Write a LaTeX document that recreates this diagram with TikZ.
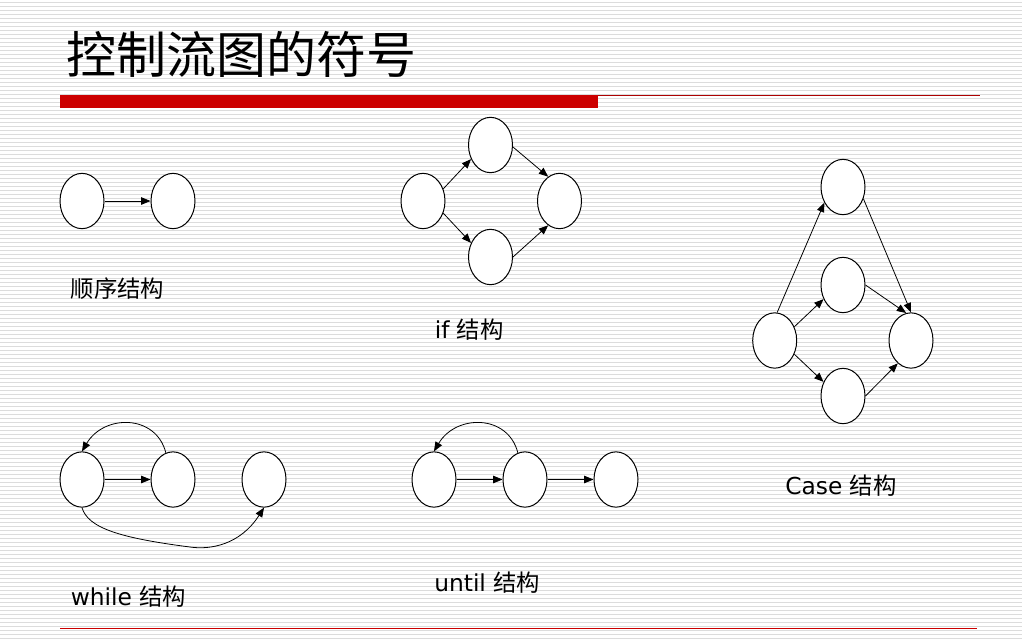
\documentclass[tikz,border=0pt]{standalone}
\usepackage{fontspec}
\setmainfont{DejaVu Sans}
\newfontfamily\cjk{Noto Sans CJK SC}
\usepackage{tikz}
\usetikzlibrary{shapes.geometric}
\usetikzlibrary{arrows.meta}
\definecolor{barred}{HTML}{CC0000}
\definecolor{stripe}{HTML}{DCDCDC}
\tikzset{
	blob/.style={ellipse, draw=black, fill=white, line width=0.75pt, minimum width=33pt, minimum height=41.5pt, inner sep=0pt},
	flow/.style={-{Triangle[length=7pt,width=5.6pt]}, line width=0.6pt},
	cap label/.style={anchor=base west, inner sep=0pt, font=\fontsize{17.5}{20}\selectfont}
}
\begin{document}
\begin{tikzpicture}[x=0.75pt,y=-0.75pt]
	\useasboundingbox (0,0) rectangle (1022,640);
	\fill[white] (0,0) rectangle (1022,640);
	\foreach \k in {0,...,159}
		\draw[stripe, line width=0.75pt] (0,2+4*\k) -- (1022,2+4*\k);
	\node[anchor=west, inner sep=0pt] (title) at (66,54) {\cjk\fontsize{37.5}{40}\selectfont 控制流图的符号};
	\fill[barred] (60,95) rectangle (598,107.5);
	\draw[barred!85!black, line width=0.8pt] (598,95.5) -- (980,95.5);
	\draw[barred, line width=1pt] (60,628.5) -- (977,628.5);
	\node[blob] (seqa) at (82,201) {};
	\node[blob] (seqb) at (173,201) {};
	\draw[flow] (seqa.east) -- (seqb.west);
	\node[cap label] (seqlab) at (70.5,297.5) {\cjk 顺序结构};
	\node[blob] (ifl) at (423,201) {};
	\node[blob] (ift) at (490.5,145) {};
	\node[blob] (ifb) at (490.5,257) {};
	\node[blob] (ifr) at (559.5,201) {};
	\draw[flow] (ifl.31) -- (ift.216);
	\draw[flow] (ifl.-31) -- (ifb.144);
	\draw[flow] (ift.-5) -- (ifr.115);
	\draw[flow] (ifb.east) -- (ifr.245);
	\node[cap label] (iflab) at (434.5,338) {if {\cjk 结构}};
	\node[blob] (casel) at (774.7,340.5) {};
	\node[blob] (caset) at (843,187) {};
	\node[blob] (casem) at (843,285) {};
	\node[blob] (caseb) at (843,396) {};
	\node[blob] (caser) at (911,340.5) {};
	\draw[flow] (casel.85) -- (caset.220);
	\draw[flow] (casel.35) -- (casem.216);
	\draw[flow] (casel.-35) -- (caseb.144);
	\draw[flow] (caset.-30) -- (caser.north);
	\draw[flow] (casem.east) -- (caser.100);
	\draw[flow] (caseb.east) -- (caser.240);
	\node[cap label] (caselab) at (785,494) {Case {\cjk 结构}};
	\node[blob] (whla) at (82,479.5) {};
	\node[blob] (whlb) at (173,479.5) {};
	\node[blob] (whlc) at (264,479.5) {};
	\draw[flow] (whla.east) -- (whlb.west);
	\draw[flow] (whlb.105) .. controls (156,414) and (104,414) .. (whla.north);
	\draw[flow] (whla.south) .. controls (88,528) and (120,538) .. (190,547) .. controls (210,550) and (240,545) .. (whlc.south);
	\node[cap label] (whllab) at (70.5,605) {while {\cjk 结构}};
	\node[blob] (unta) at (434,479.5) {};
	\node[blob] (untb) at (525,479.5) {};
	\node[blob] (untc) at (616,479.5) {};
	\draw[flow] (unta.east) -- (untb.west);
	\draw[flow] (untb.east) -- (untc.west);
	\draw[flow] (untb.105) .. controls (508,414) and (456,414) .. (unta.north);
	\node[cap label] (untlab) at (434,591.7) {until {\cjk 结构}};
\end{tikzpicture}
\end{document}
